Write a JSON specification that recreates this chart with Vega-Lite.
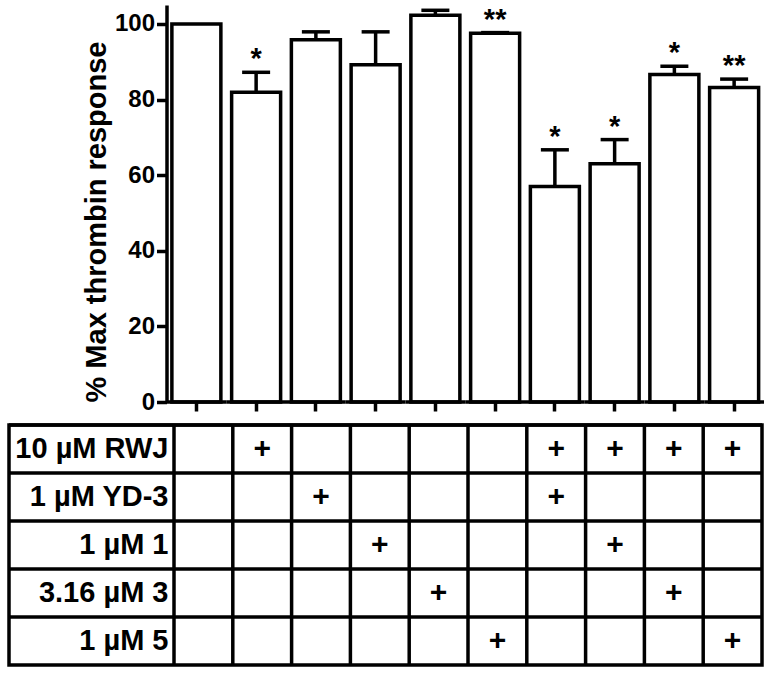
{
  "$schema": "https://vega.github.io/schema/vega-lite/v6.json",
  "padding": {"left": 5, "top": 5, "right": 5, "bottom": 5},
  "background": "white",
  "spacing": 23,
  "bounds": "flush",
  "config": {
    "font": "Liberation Sans",
    "view": {"stroke": null},
    "axis": {"labelColor": "black", "titleColor": "black", "domainColor": "black", "tickColor": "black", "grid": false}
  },
  "datasets": {
    "bars": [
      {"cond": "1", "value": 100, "err": null, "sig": ""},
      {"cond": "2", "value": 81.9, "err": 87.2, "sig": "*"},
      {"cond": "3", "value": 95.8, "err": 97.9, "sig": ""},
      {"cond": "4", "value": 89.2, "err": 97.9, "sig": ""},
      {"cond": "5", "value": 102.3, "err": 103.6, "sig": ""},
      {"cond": "6", "value": 97.5, "err": 97.7, "sig": "**"},
      {"cond": "7", "value": 57.0, "err": 66.7, "sig": "*"},
      {"cond": "8", "value": 63.0, "err": 69.4, "sig": "*"},
      {"cond": "9", "value": 86.6, "err": 88.8, "sig": "*"},
      {"cond": "10", "value": 83.2, "err": 85.4, "sig": "**"}
    ],
    "rows": [
      {"row": "10 µM RWJ"},
      {"row": "1 µM YD-3"},
      {"row": "1 µM 1"},
      {"row": "3.16 µM 3"},
      {"row": "1 µM 5"}
    ],
    "plus": [
      {"cond": "2", "row": "10 µM RWJ"},
      {"cond": "7", "row": "10 µM RWJ"},
      {"cond": "8", "row": "10 µM RWJ"},
      {"cond": "9", "row": "10 µM RWJ"},
      {"cond": "10", "row": "10 µM RWJ"},
      {"cond": "3", "row": "1 µM YD-3"},
      {"cond": "7", "row": "1 µM YD-3"},
      {"cond": "4", "row": "1 µM 1"},
      {"cond": "8", "row": "1 µM 1"},
      {"cond": "5", "row": "3.16 µM 3"},
      {"cond": "9", "row": "3.16 µM 3"},
      {"cond": "6", "row": "1 µM 5"},
      {"cond": "10", "row": "1 µM 5"}
    ]
  },
  "vconcat": [
    {
      "width": 755,
      "height": 397,
      "data": {"name": "bars"},
      "encoding": {
        "x": {
          "field": "cond", "type": "nominal",
          "scale": {"domain": ["1","2","3","4","5","6","7","8","9","10"], "paddingInner": 0, "paddingOuter": 0, "range": [157.5, 755]},
          "axis": {"labels": false, "domain": false, "ticks": true, "tickSize": 9, "tickWidth": 3.5, "title": null}
        }
      },
      "layer": [
        {
          "transform": [{"filter": "datum.err != null"}],
          "mark": {"type": "rule", "stroke": "black", "strokeWidth": 3.5},
          "encoding": {
            "y": {"field": "value", "type": "quantitative"},
            "y2": {"field": "err"}
          }
        },
        {
          "transform": [{"filter": "datum.err != null"}],
          "mark": {"type": "tick", "orient": "horizontal", "color": "black", "size": 28, "thickness": 3.5, "opacity": 1},
          "encoding": {
            "y": {"field": "err", "type": "quantitative"}
          }
        },
        {
          "mark": {"type": "bar", "fill": "white", "stroke": "black", "strokeWidth": 3.5, "width": {"band": 0.82}},
          "encoding": {
            "y": {
              "field": "value", "type": "quantitative",
              "scale": {"domain": [0, 105], "nice": false},
              "axis": {
                "offset": -157.5,
                "values": [0, 20, 40, 60, 80, 100],
                "labelFont": "Liberation Sans", "labelFontWeight": "bold", "labelFontSize": 24,
                "labelPadding": 2, "tickSize": 10, "tickWidth": 3.5, "domainWidth": 3.5,
                "title": "% Max thrombin response",
                "titleFont": "Liberation Sans", "titleFontWeight": "bold", "titleFontSize": 29,
                "titlePadding": 3, "titleAnchor": "start"
              }
            }
          }
        },
        {
          "mark": {"type": "bar", "fill": null, "stroke": "black", "strokeWidth": 3.5, "width": {"band": 1}},
          "encoding": {
            "y": {"datum": 0, "type": "quantitative"},
            "y2": {"datum": 0}
          }
        },
        {
          "transform": [{"filter": "datum.sig != ''"}],
          "mark": {"type": "text", "font": "Liberation Sans", "fontWeight": "bold", "fontSize": 29, "baseline": "alphabetic", "dy": -4, "color": "black"},
          "encoding": {
            "y": {"field": "err", "type": "quantitative"},
            "text": {"field": "sig"}
          }
        }
      ]
    },
    {
      "width": 753,
      "height": 240,
      "view": {"stroke": "black", "strokeWidth": 3.5},
      "encoding": {
        "x": {
          "field": "cond", "type": "nominal",
          "scale": {"domain": ["1","2","3","4","5","6","7","8","9","10"], "paddingInner": 0, "paddingOuter": 0, "range": [165, 753]},
          "axis": null
        },
        "y": {
          "field": "row", "type": "nominal",
          "scale": {"domain": ["10 µM RWJ", "1 µM YD-3", "1 µM 1", "3.16 µM 3", "1 µM 5"], "paddingInner": 0, "paddingOuter": 0},
          "axis": {
            "domain": false, "ticks": false, "tickSize": 0, "title": null,
            "labelPadding": -159, "labelAlign": "right",
            "labelFont": "Liberation Sans", "labelFontWeight": "bold", "labelFontSize": 29
          }
        }
      },
      "layer": [
        {
          "data": {"name": "bars"},
          "mark": {"type": "rule", "stroke": "black", "strokeWidth": 3.5},
          "encoding": {
            "x": {"field": "cond", "type": "nominal", "bandPosition": 0},
            "y": null
          }
        },
        {
          "data": {"name": "rows"},
          "mark": {"type": "rule", "stroke": "black", "strokeWidth": 3.5},
          "encoding": {
            "x": null,
            "y": {"field": "row", "type": "nominal", "bandPosition": 0}
          }
        },
        {
          "data": {"name": "plus"},
          "mark": {"type": "text", "text": "+", "font": "Liberation Sans", "fontWeight": "bold", "fontSize": 30, "baseline": "middle", "color": "black"}
        }
      ]
    }
  ]
}
